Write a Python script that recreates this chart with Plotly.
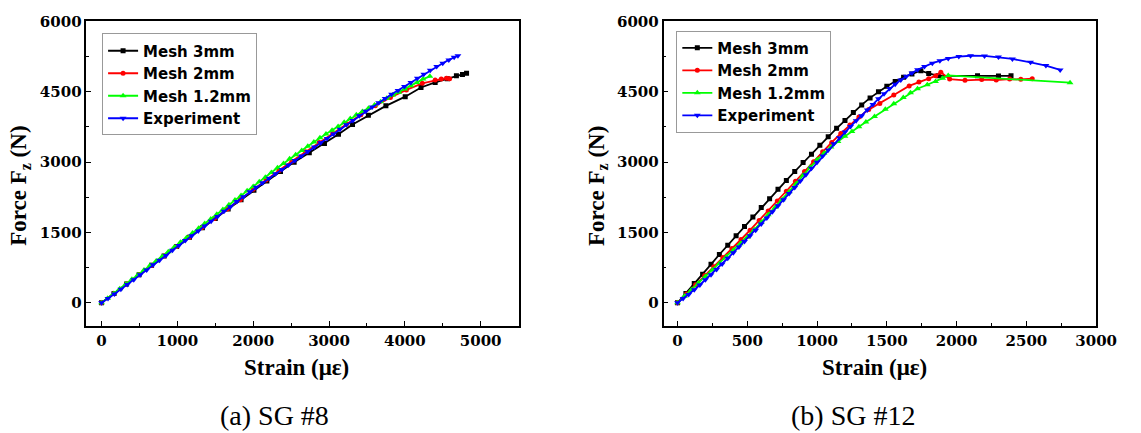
import plotly.graph_objects as go

# ---------------- data: (a) SG #8 ----------------
a_m3_x = [0,165,330,495,660,825,990,1160,1330,1500,1670,1840,2010,2180,2360,2540,2740,2940,3125,3310,3519,3750,4005,4213,4400,4560,4680,4760,4814]
a_m3_y = [0,200,400,600,800,1000,1200,1400,1600,1800,2000,2200,2400,2600,2800,3000,3200,3398,3594,3803,3998,4200,4396,4592,4700,4780,4840,4870,4897]

a_m2_x = [0,165,330,495,660,825,990,1155,1320,1490,1660,1830,2000,2170,2340,2510,2690,2870,3050,3230,3420,3610,3810,4020,4230,4400,4480,4550,4590]
a_m2_y = [0,200,400,600,800,1000,1200,1400,1600,1800,2000,2200,2420,2620,2820,3020,3220,3420,3610,3810,4010,4200,4380,4540,4680,4750,4770,4790,4780]

a_m12_x = [0,80,160,240,320,400,480,560,640,720,800,880,960,1040,1120,1200,1280,1360,1440,1520,1600,1680,1760,1840,1920,2000,2080,2160,2240,2320,2400,2480,2560,2640,2720,2800,2880,2960,3040,3120,3200,3280,3360,3440,3520,3600,3680,3760,3840,3920,4000,4080,4160,4240,4330]
a_m12_y = [0,100,200,300,400,500,600,700,800,890,990,1090,1190,1290,1390,1490,1590,1690,1790,1890,1990,2090,2190,2290,2390,2480,2580,2680,2780,2880,2970,3070,3160,3250,3340,3430,3520,3600,3680,3760,3850,3930,4010,4080,4150,4220,4290,4360,4430,4490,4560,4630,4700,4770,4830]

a_exp_x = [0,85,170,255,340,425,510,595,680,765,850,935,1020,1105,1190,1275,1360,1445,1530,1615,1700,1785,1870,1955,2040,2125,2210,2295,2380,2465,2550,2635,2720,2805,2890,2975,3060,3145,3230,3315,3400,3485,3570,3655,3740,3825,3910,3995,4080,4165,4250,4335,4420,4500,4580,4650,4700]
a_exp_y = [0,90,190,290,390,490,600,700,810,910,1010,1120,1220,1330,1430,1530,1640,1740,1840,1950,2050,2160,2260,2370,2465,2560,2655,2750,2845,2940,3035,3130,3225,3320,3415,3505,3600,3700,3795,3890,3990,4085,4175,4265,4355,4445,4530,4615,4700,4790,4875,4960,5040,5110,5180,5235,5268]

# ---------------- data: (b) SG #12 ----------------
b_m3_x = [0,60,120,180,240,300,360,420,480,540,600,660,720,780,840,900,960,1020,1080,1140,1200,1260,1320,1380,1440,1500,1560,1620,1680,1744,1800,1870,2150,2300,2390]
b_m3_y = [0,200,410,610,820,1030,1230,1430,1630,1830,2030,2220,2420,2610,2800,2990,3170,3360,3540,3720,3890,4060,4220,4370,4500,4620,4720,4810,4880,4950,4890,4840,4840,4835,4840]

b_m2_x = [0,65,130,195,260,325,390,455,520,585,650,715,780,845,910,975,1040,1105,1170,1235,1300,1370,1450,1550,1660,1730,1800,1850,1887,1950,2060,2180,2284,2380,2460,2542]
b_m2_y = [0,190,385,580,770,965,1160,1350,1550,1755,1960,2170,2380,2590,2800,3010,3220,3420,3610,3790,3960,4120,4250,4430,4625,4709,4779,4840,4918,4770,4744,4760,4750,4770,4765,4779]

b_m12_x = [0,50,100,150,200,250,300,350,400,450,500,550,600,650,700,750,800,850,900,950,1000,1050,1100,1150,1200,1250,1300,1350,1412,1489,1550,1618,1670,1720,1790,1849,1900,1940,2813]
b_m12_y = [0,140,280,420,560,700,840,980,1120,1260,1400,1560,1720,1880,2040,2200,2370,2540,2720,2890,3050,3190,3320,3440,3550,3655,3755,3855,3975,4125,4245,4380,4480,4565,4650,4720,4790,4849,4695]

b_exp_x = [0,40,80,120,160,200,240,280,320,360,400,440,480,520,560,600,640,680,720,760,800,840,880,920,960,1000,1040,1080,1120,1160,1200,1240,1280,1320,1360,1400,1440,1480,1520,1560,1600,1640,1680,1720,1770,1826,1880,1940,2016,2100,2200,2300,2400,2530,2640,2742]
b_exp_y = [0,90,180,280,380,490,600,710,830,950,1070,1190,1310,1430,1550,1680,1810,1940,2070,2200,2330,2460,2600,2730,2870,3000,3130,3260,3390,3520,3640,3760,3880,3990,4110,4230,4350,4460,4570,4660,4750,4830,4900,4970,5040,5110,5160,5210,5250,5268,5265,5240,5200,5128,5060,4967]

series_names = ["Mesh 3mm", "Mesh 2mm", "Mesh 1.2mm", "Experiment"]
series_colors = ["#000000", "#ff0000", "#00ff00", "#0000ff"]
series_symbols = ["square", "circle", "triangle-up", "triangle-down"]
series_sizes = [5, 5, 6, 6]

x_ticks_a = [0, 1000, 2000, 3000, 4000, 5000]
x_ticks_b = [0, 500, 1000, 1500, 2000, 2500, 3000]
y_ticks = [0, 1500, 3000, 4500, 6000]

W, H = 1141, 433
fig = go.Figure()

panels = [
    ("x", "y", "legend", [(a_m3_x, a_m3_y), (a_m2_x, a_m2_y), (a_m12_x, a_m12_y), (a_exp_x, a_exp_y)]),
    ("x2", "y2", "legend2", [(b_m3_x, b_m3_y), (b_m2_x, b_m2_y), (b_m12_x, b_m12_y), (b_exp_x, b_exp_y)]),
]
for xa, ya, lg, data in panels:
    for i, (xs, ys) in enumerate(data):
        fig.add_trace(go.Scatter(
            x=xs, y=ys, mode="lines+markers", name=series_names[i],
            line=dict(color=series_colors[i], width=1.8),
            marker=dict(symbol=series_symbols[i], size=series_sizes[i], color=series_colors[i]),
            xaxis=xa, yaxis=ya, legend=lg,
        ))

tick_font = dict(family="DejaVu Serif", size=15, color="black", weight="bold")
axis_common = dict(showline=True, linecolor="black", linewidth=1.6, mirror=True,
                   showgrid=False, zeroline=False, ticks="inside", ticklen=5,
                   tickwidth=1.2, tickcolor="black", tickfont=tick_font)

def px2x(p):
    return p / W

def px2y(p):
    return 1 - p / H

y_dom = [px2y(324), px2y(12.7)]

legend_font = dict(family="DejaVu Sans", size=15, color="black", weight="bold")

fig.update_layout(
    width=W, height=H, margin=dict(l=0, r=0, t=0, b=0),
    paper_bgcolor="white", plot_bgcolor="white",
    xaxis=dict(domain=[px2x(88), px2x(528.3)], range=[-200, 5500], tickvals=x_ticks_a,
               minor=dict(dtick=500, ticks="inside", ticklen=3, tickcolor="black"),
               anchor="y", **axis_common),
    yaxis=dict(domain=y_dom, range=[-500, 6000], tickvals=y_ticks,
               minor=dict(dtick=750, ticks="inside", ticklen=3, tickcolor="black"),
               anchor="x", **axis_common),
    xaxis2=dict(domain=[px2x(676), px2x(1116.7)], range=[-100, 3000], tickvals=x_ticks_b,
                minor=dict(dtick=250, ticks="inside", ticklen=3, tickcolor="black"),
                anchor="y2", **axis_common),
    yaxis2=dict(domain=y_dom, range=[-500, 6000], tickvals=y_ticks,
                minor=dict(dtick=750, ticks="inside", ticklen=3, tickcolor="black"),
                anchor="x2", **axis_common),
    legend=dict(x=px2x(104), y=px2y(25), xanchor="left", yanchor="top",
                bgcolor="white", bordercolor="#999999", borderwidth=1,
                font=legend_font, tracegroupgap=0, itemwidth=30),
    legend2=dict(x=px2x(689), y=px2y(22), xanchor="left", yanchor="top",
                 bgcolor="white", bordercolor="#999999", borderwidth=1,
                 font=legend_font, tracegroupgap=0, itemwidth=30),
)

title_font = dict(family="Liberation Serif", size=23, color="black", weight="bold")
caption_font = dict(family="Liberation Serif", size=28, color="black")
annots = [
    dict(text="Strain (\u03bc\u03b5)", x=px2x(302), y=px2y(366), font=title_font),
    dict(text="Strain (\u03bc\u03b5)", x=px2x(891), y=px2y(366), font=title_font),
    dict(text="Force F<sub>z</sub> (N)", x=px2x(21), y=px2y(181), font=title_font, textangle=-90),
    dict(text="Force F<sub>z</sub> (N)", x=px2x(609), y=px2y(181), font=title_font, textangle=-90),
    dict(text="(a) SG #8", x=px2x(280), y=px2y(415), font=caption_font),
    dict(text="(b) SG #12", x=px2x(869), y=px2y(415), font=caption_font),
]
for a in annots:
    fig.add_annotation(xref="paper", yref="paper", showarrow=False,
                       xanchor="center", yanchor="middle", **a)

fig.write_html("out.html")
